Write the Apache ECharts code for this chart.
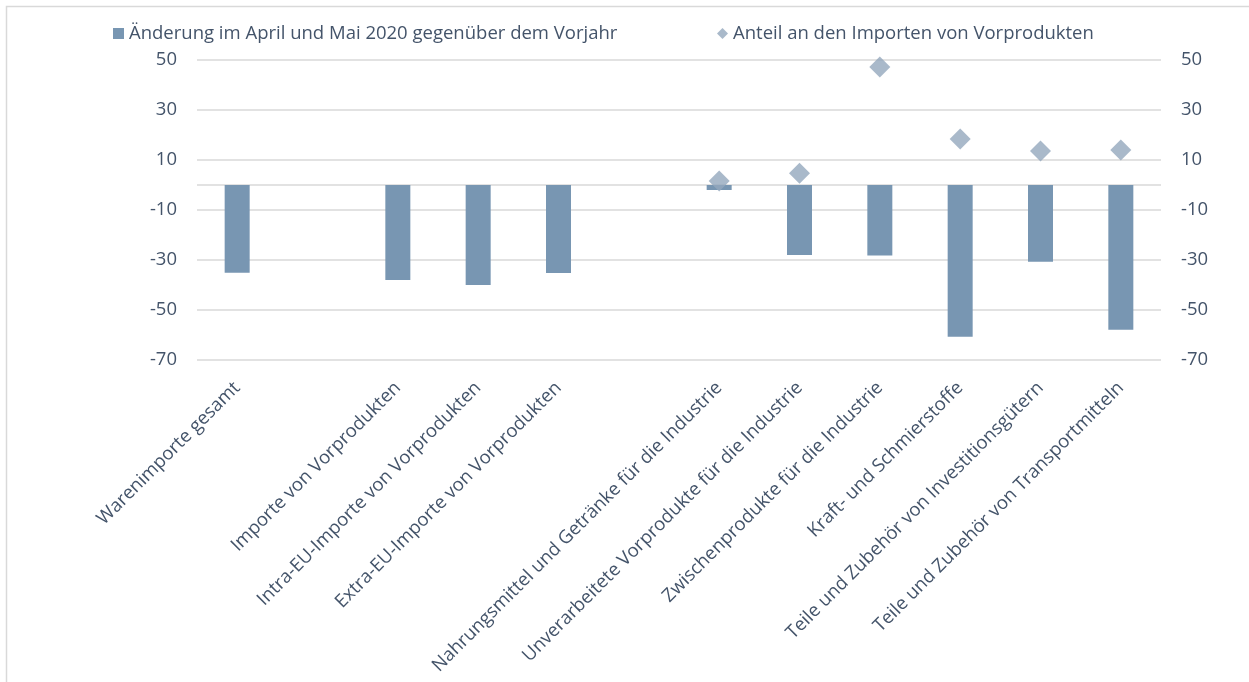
<!DOCTYPE html>
<html>
<head>
<meta charset="utf-8">
<script src="https://cdn.jsdelivr.net/npm/echarts@6/dist/echarts.min.js"></script>
<style>
html,body{margin:0;padding:0;background:#fff;}
#chart{width:1249px;height:682px;}
</style>
</head>
<body>
<div id="chart"></div>
<script>
const categories = [
  'Warenimporte gesamt',
  '',
  'Importe von Vorprodukten',
  'Intra-EU-Importe von Vorprodukten',
  'Extra-EU-Importe von Vorprodukten',
  ' ',
  'Nahrungsmittel und Getränke für die Industrie',
  'Unverarbeitete Vorprodukte für die Industrie',
  'Zwischenprodukte für die Industrie',
  'Kraft- und Schmierstoffe',
  'Teile und Zubehör von Investitionsgütern',
  'Teile und Zubehör von Transportmitteln'
];
const seriesNames = [
  'Änderung im April und Mai 2020 gegenüber dem Vorjahr',
  'Anteil an den Importen von Vorprodukten'
];
const changeValues = [-35.1, null, -38, -40, -35.2, null, -2, -28, -28.2, -60.7, -30.7, -57.9];
const shareValues = [null, null, null, null, null, null, 1.6, 4.7, 47.2, 18.4, 13.6, 14];
const yLabelTicks = [-70, -50, -30, -10, 10, 30, 50];
const yLineTicks = [-70, -50, -30, -10, 0, 10, 30, 50];

const FONT = 'Open Sans';
const TXT = '#44546a';
const FS = 18.5;

const chart = echarts.init(document.getElementById('chart'), null, {renderer: 'canvas'});

function yAxisDef(pos, showSplit) {
  return {
    type: 'value',
    position: pos,
    min: -70,
    max: 50,
    interval: 10,
    axisLine: {show: false},
    axisTick: {show: false, customValues: yLineTicks},
    splitLine: {show: showSplit, lineStyle: {color: '#d9d9d9', width: 1.5}},
    axisLabel: {
      customValues: yLabelTicks,
      color: TXT, fontFamily: FONT, fontSize: FS, margin: 20,
      formatter: v => (yLabelTicks.indexOf(v) >= 0 ? String(v) : '')
    }
  };
}

chart.setOption({
  animation: false,
  backgroundColor: '#ffffff',
  graphic: [{
    type: 'rect', silent: true, z: -10,
    shape: {x: 6.5, y: 6.5, width: 1260, height: 700},
    style: {fill: 'none', stroke: '#d9d9d9', lineWidth: 1.5}
  }],
  legend: [
    {
      data: [seriesNames[0]], left: 108, top: 19,
      icon: 'rect', itemWidth: 11, itemHeight: 11, itemGap: 4,
      textStyle: {color: TXT, fontFamily: FONT, fontSize: FS}
    },
    {
      data: [seriesNames[1]], left: 712, top: 19,
      icon: 'diamond', itemWidth: 11, itemHeight: 11,
      textStyle: {color: TXT, fontFamily: FONT, fontSize: FS}
    }
  ],
  grid: {left: 197, right: 88, top: 60, bottom: 322, containLabel: false},
  xAxis: {
    type: 'category',
    data: categories,
    position: 'bottom',
    axisLine: {show: false, onZero: false},
    axisTick: {show: false},
    splitLine: {show: false},
    axisLabel: {
      interval: 0, rotate: 45, margin: 25,
      color: TXT, fontFamily: FONT, fontSize: FS
    }
  },
  yAxis: [yAxisDef('left', true), yAxisDef('right', false)],
  series: [
    {
      name: seriesNames[0],
      type: 'bar',
      data: changeValues,
      yAxisIndex: 0,
      barWidth: 25,
      itemStyle: {color: '#7896b2'}
    },
    {
      name: seriesNames[1],
      type: 'scatter',
      data: shareValues,
      yAxisIndex: 1,
      symbol: 'diamond',
      symbolSize: 21,
      itemStyle: {color: '#93a8bd'}
    }
  ]
});
</script>
</body>
</html>
